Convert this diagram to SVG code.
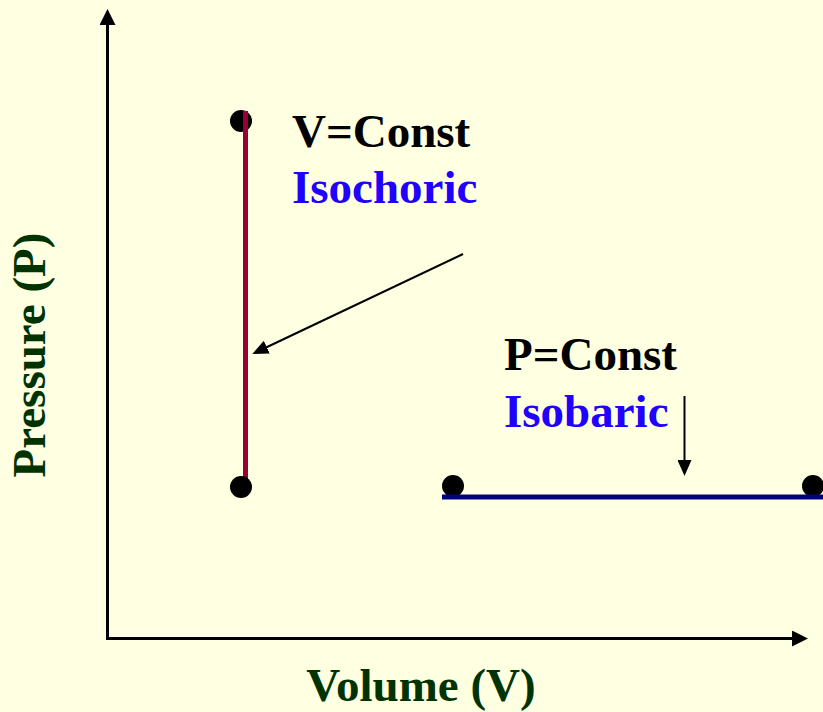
<svg xmlns="http://www.w3.org/2000/svg" width="823" height="712" viewBox="0 0 823 712">
<style>
.lbl{font-family:"Liberation Serif","Times New Roman",serif;font-weight:bold;font-size:47px}
.blk{fill:#000}
.blu{fill:#2000FF}
.grn{fill:#003300}
.ax{stroke:#000;stroke-width:3;fill:none}
.call{stroke:#000;stroke-width:2;fill:none}
.dot{fill:#000}
</style>
<defs>
<marker id="axh" markerUnits="userSpaceOnUse" markerWidth="16" markerHeight="16" refX="2" refY="8" orient="auto">
<path d="M0,0 L16,8 L0,16 z" fill="#000"/>
</marker>
<marker id="smh" markerUnits="userSpaceOnUse" markerWidth="16" markerHeight="14" refX="2" refY="7" orient="auto">
<path d="M0,0 L16,7 L0,14 z" fill="#000"/>
</marker>
</defs>
<rect width="823" height="712" fill="#FFFFE1"/>
<g id="axes">
<line class="ax" x1="107.5" y1="640" x2="107.5" y2="23" marker-end="url(#axh)"/>
<line class="ax" x1="106" y1="638.5" x2="794" y2="638.5" marker-end="url(#axh)"/>
</g>
<g id="isochoric">
<circle class="dot" cx="241" cy="121" r="11"/>
<line x1="245.5" y1="111" x2="245.5" y2="487" stroke="#990033" stroke-width="5"/>
<circle class="dot" cx="241" cy="487" r="11"/>
</g>
<g id="isobaric">
<circle class="dot" cx="453" cy="486" r="11"/>
<circle class="dot" cx="813" cy="486" r="11"/>
<line x1="442" y1="497" x2="823" y2="497" stroke="#000080" stroke-width="5"/>
</g>
<g id="connectors">
<line class="call" x1="463" y1="254" x2="265" y2="348" marker-end="url(#smh)"/>
<line class="call" x1="684.5" y1="396" x2="684.5" y2="462" marker-end="url(#smh)"/>
</g>
<g id="label-v">
<text class="lbl blk" x="292" y="147">V=Const</text>
<text class="lbl blu" x="292" y="203">Isochoric</text>
</g>
<g id="label-p">
<text class="lbl blk" x="504" y="370">P=Const</text>
<text class="lbl blu" x="504" y="427">Isobaric</text>
</g>
<g id="axis-labels">
<text class="lbl grn" x="421" y="701" text-anchor="middle">Volume (V)</text>
<text class="lbl grn" transform="translate(45,355) rotate(-90)" text-anchor="middle">Pressure (P)</text>
</g>
</svg>
